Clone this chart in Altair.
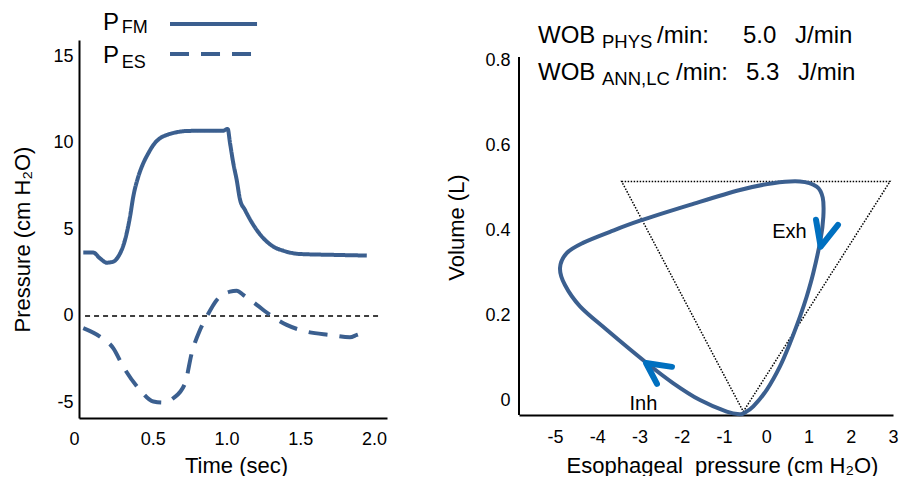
import altair as alt
import pandas as pd

FONT = "Liberation Sans"
LINE = "#3B5F8F"
ARROW = "#0070C0"

# ---------------- left panel: pressure traces ----------------
t_fm = [0.029, 0.097, 0.142, 0.188, 0.233, 0.266, 0.312, 0.346, 0.368, 0.402, 0.436,
        0.470, 0.504, 0.549, 0.595, 0.662, 0.730, 0.866, 0.978, 1.008, 1.024, 1.046,
        1.069, 1.092, 1.125, 1.182, 1.250, 1.317, 1.385, 1.498, 1.724, 1.951]
p_fm = [3.66, 3.66, 3.33, 3.08, 3.14, 3.43, 4.39, 5.74, 6.90, 8.05, 8.83,
        9.40, 9.88, 10.27, 10.46, 10.62, 10.69, 10.71, 10.71, 10.81, 9.98, 8.83,
        7.86, 6.71, 6.13, 5.26, 4.49, 4.01, 3.77, 3.58, 3.53, 3.49]

t_es = [0.029, 0.142, 0.233, 0.300, 0.414, 0.504, 0.572, 0.639, 0.719, 0.764, 0.820,
        0.866, 0.934, 1.024, 1.069, 1.114, 1.205, 1.295, 1.408, 1.544, 1.702, 1.837,
        1.883, 1.917]
p_es = [-0.71, -1.20, -1.87, -2.93, -4.28, -4.95, -5.01, -4.76, -3.89, -2.16, -0.81,
        -0.04, 0.92, 1.40, 1.46, 1.21, 0.64, 0.06, -0.52, -0.91, -1.10, -1.23,
        -1.10, -1.00]

left_xticks = [0, 0.5, 1.0, 1.5, 2.0]
left_yticks = [-5, 0, 5, 10, 15]

# ---------------- right panel: P-V loop ----------------
loop_x = [-0.622, -0.936, -1.568, -2.207, -2.830, -3.777, -4.408, -4.764, -4.881, -4.723,
          -4.338, -3.698, -2.988, -1.805, -0.622, 0.159, 0.799, 1.194, 1.337, 1.351,
          1.284, 1.113, 0.958, 0.799, 0.563, 0.325, 0.011, -0.306, -0.503]
loop_y = [-0.031, -0.025, 0.002, 0.042, 0.089, 0.167, 0.222, 0.272, 0.312, 0.347,
          0.371, 0.397, 0.423, 0.460, 0.495, 0.511, 0.515, 0.503, 0.477, 0.432,
          0.378, 0.300, 0.245, 0.198, 0.136, 0.081, 0.026, -0.013, -0.027]

tri_x = [-3.422, 2.929, -0.543]
tri_y = [0.515, 0.515, -0.025]

inh_arrow_x = [-2.586, -2.846, -2.231]
inh_arrow_y = [0.040, 0.089, 0.080]
exh_arrow_x = [1.178, 1.288, 1.698]
exh_arrow_y = [0.425, 0.362, 0.413]

right_xticks = [-5, -4, -3, -2, -1, 0, 1, 2, 3]
right_yticks = [0, 0.2, 0.4, 0.6, 0.8]

wob_labels = ["WOB", "/min:", "5.0", "J/min", "WOB", "/min:", "5.3", "J/min"]
wob_subs = ["PHYS", "ANN,LC"]

# ---------------- scales / axes ----------------
LX = alt.Scale(domain=[0, 2.088], nice=False, zero=False)
LY = alt.Scale(domain=[-5.9, 15.95], nice=False, zero=False)
RX = alt.Scale(domain=[-5.852, 3.0], nice=False, zero=False)
RY = alt.Scale(domain=[-0.033, 0.847], nice=False, zero=False)

lx_axis = alt.Axis(values=left_xticks, title="Time (sec)",
                   labelExpr="datum.value == 0 ? '0' : format(datum.value, '.1f')",
                   labelAlign={"condition": {"test": "datum.value == 0", "value": "right"}, "value": "center"},
                   labelPadding=12, titleX=157, titleY=54, titleBaseline="alphabetic",
                   titleAlign="center")
ly_axis = alt.Axis(values=left_yticks, title="Pressure (cm H\u2082O)",
                   labelExpr="'' + datum.value", labelPadding=6,
                   titleX=-50, titleY=199, titleAngle=270, titleBaseline="alphabetic",
                   titleAlign="center")
rx_axis = alt.Axis(values=right_xticks, title="Esophageal\u00a0 pressure (cm H\u2082O)",
                   labelExpr="'' + datum.value", labelPadding=13,
                   titleX=203, titleY=57, titleBaseline="alphabetic", titleAlign="center")
ry_axis = alt.Axis(values=right_yticks, title="Volume (L)", domain=False,
                   labelExpr="'' + datum.value", labelPadding=9,
                   titleX=-56, titleY=187, titleAngle=270, titleBaseline="alphabetic",
                   titleAlign="center")


def lenc(x="x", y="y"):
    return dict(x=alt.X(f"{x}:Q", scale=LX, axis=lx_axis),
                y=alt.Y(f"{y}:Q", scale=LY, axis=ly_axis))


def renc(x="x", y="y"):
    return dict(x=alt.X(f"{x}:Q", scale=RX, axis=rx_axis),
                y=alt.Y(f"{y}:Q", scale=RY, axis=ry_axis))


dash_scale = alt.Scale(domain=["FM", "ES"], range=[[1, 0], [19, 12]])

traces = pd.concat([
    pd.DataFrame({"x": t_fm, "y": p_fm, "s": "FM"}),
    pd.DataFrame({"x": t_es, "y": p_es, "s": "ES"}),
])

trace_lines = alt.Chart(traces).mark_line(
    color=LINE, strokeWidth=4, interpolate="monotone"
).encode(**lenc(), strokeDash=alt.StrokeDash("s:N", scale=dash_scale, legend=None))

zero_df = pd.DataFrame({"x": [0.041], "x2": [2.041], "y": [0]})
zero_line = alt.Chart(zero_df).mark_rule(color="black", strokeWidth=1.5, strokeDash=[5, 4]).encode(
    **lenc(), x2="x2:Q")

leg_df = pd.DataFrame({"x": [0.617, 0.617], "x2": [1.207, 1.207], "y": [16.88, 15.14], "s": ["FM", "ES"]})
leg_lines = alt.Chart(leg_df).mark_rule(color=LINE, strokeWidth=4).encode(
    **lenc(), x2="x2:Q", strokeDash=alt.StrokeDash("s:N", scale=dash_scale, legend=None))

leg_main = pd.DataFrame({"x": [0.163, 0.163], "y": [16.53, 14.60], "t": ["P", "P"]})
leg_sub = pd.DataFrame({"x": [0.289, 0.289], "y": [16.36, 14.34], "t": ["FM", "ES"]})
leg_text_main = alt.Chart(leg_main).mark_text(font=FONT, fontSize=24, align="left",
                                              baseline="alphabetic", color="black").encode(**lenc(), text="t:N")
leg_text_sub = alt.Chart(leg_sub).mark_text(font=FONT, fontSize=18, align="left",
                                            baseline="alphabetic", color="black").encode(**lenc(), text="t:N")

left = alt.layer(zero_line, trace_lines, leg_lines, leg_text_main, leg_text_sub).properties(
    width=308, height=378)

# right
loop_df = pd.DataFrame({"x": loop_x, "y": loop_y, "i": list(range(len(loop_x)))})
loop = alt.Chart(loop_df).mark_line(color=LINE, strokeWidth=4, interpolate="cardinal-closed").encode(
    **renc(), order="i:Q")

tri_df = pd.DataFrame({"x": tri_x, "y": tri_y, "i": [0, 1, 2]})
tri = alt.Chart(tri_df).mark_line(color="black", strokeWidth=1.5, strokeDash=[1.5, 1.5],
                                  interpolate="linear-closed").encode(**renc(), order="i:Q")

arrow_df = pd.DataFrame({
    "x": inh_arrow_x + exh_arrow_x,
    "y": inh_arrow_y + exh_arrow_y,
    "a": ["inh"] * 3 + ["exh"] * 3,
    "i": [0, 1, 2] * 2,
})
arrows = alt.Chart(arrow_df).mark_line(color=ARROW, strokeWidth=6, strokeCap="round",
                                       strokeJoin="round").encode(**renc(), detail="a:N", order="i:Q")

yaxis_df = pd.DataFrame({"x": [-5.852], "y": [-0.033], "y2": [0.807]})
yaxis_line = alt.Chart(yaxis_df).mark_rule(color="black", strokeWidth=2).encode(**renc(), y2="y2:Q")

phase_df = pd.DataFrame({"x": [0.550, -2.906], "y": [0.383, -0.021], "t": ["Exh", "Inh"]})
phase_text = alt.Chart(phase_df).mark_text(font=FONT, fontSize=20, align="center",
                                           baseline="alphabetic", color="black").encode(**renc(), text="t:N")

wob_main = pd.DataFrame({
    "x": [-5.402, -2.586, -0.550, 0.680, -5.402, -2.136, -0.479, 0.751],
    "y": [0.840] * 4 + [0.754] * 4,
    "t": wob_labels,
})
wob_sub = pd.DataFrame({"x": [-3.887, -3.887], "y": [0.829, 0.742], "t": wob_subs})
wob_text_main = alt.Chart(wob_main).mark_text(font=FONT, fontSize=24, align="left",
                                              baseline="alphabetic", color="black").encode(**renc(), text="t:N")
wob_text_sub = alt.Chart(wob_sub).mark_text(font=FONT, fontSize=18.5, align="left",
                                            baseline="alphabetic", color="black").encode(**renc(), text="t:N")

right = alt.layer(yaxis_line, tri, loop, arrows, phase_text, wob_text_main, wob_text_sub).properties(
    width=374, height=375)

chart = alt.hconcat(left, right, spacing=132, bounds="flush").properties(
    padding={"left": 3, "top": 2, "right": 0, "bottom": 0}
).configure_view(stroke=None).configure_axis(
    domainColor="black", domainWidth=2, labelFont=FONT, titleFont=FONT,
    labelFontSize=18, titleFontSize=22, labelColor="black", titleColor="black",
    titleFontWeight="normal", grid=False, ticks=False, tickSize=0, labelFlush=False
)

chart.save("out.html", embed_options={"renderer": "svg", "actions": False})
